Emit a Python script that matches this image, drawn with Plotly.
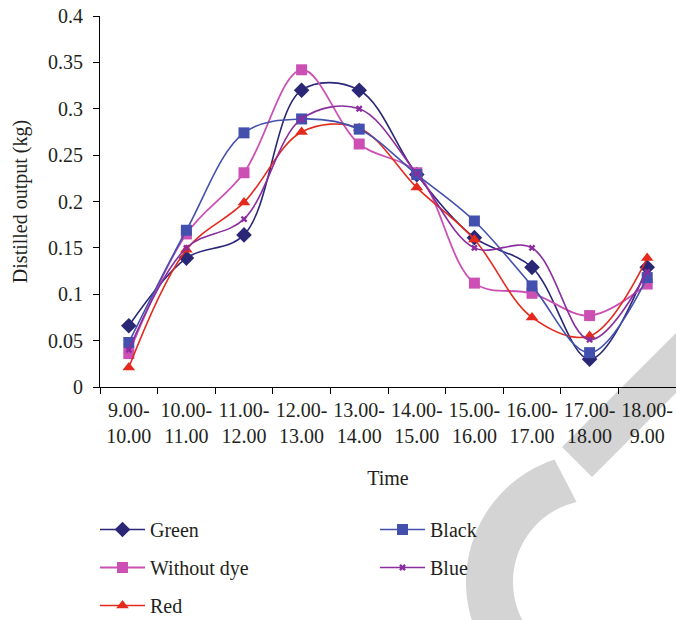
import numpy as np
import plotly.graph_objects as go

categories = ["9.00-<br>10.00", "10.00-<br>11.00", "11.00-<br>12.00", "12.00-<br>13.00",
              "13.00-<br>14.00", "14.00-<br>15.00", "15.00-<br>16.00", "16.00-<br>17.00",
              "17.00-<br>18.00", "18.00-<br>9.00"]

green = [0.066, 0.139, 0.164, 0.320, 0.320, 0.229, 0.161, 0.129, 0.030, 0.129]
black = [0.048, 0.169, 0.274, 0.289, 0.278, 0.229, 0.179, 0.109, 0.037, 0.118]
without_dye = [0.036, 0.165, 0.231, 0.342, 0.262, 0.231, 0.112, 0.101, 0.077, 0.111]
blue = [0.040, 0.150, 0.181, 0.289, 0.300, 0.230, 0.150, 0.150, 0.051, 0.124]
red = [0.021, 0.148, 0.199, 0.275, 0.279, 0.215, 0.159, 0.075, 0.055, 0.139]

y_tickvals = [0, 0.05, 0.1, 0.15, 0.2, 0.25, 0.3, 0.35, 0.4]
y_ticktext = ["0", "0.05", "0.1", "0.15", "0.2", "0.25", "0.3", "0.35", "0.4"]

FONT = "Liberation Serif"
TXT = "#231F20"

W, H = 676, 620
ML, MR, MT, MB = 100, 0, 16, 233
PW, PH = W - ML - MR, H - MT - MB


def to_paper(px, py):
    return (px - ML) / PW, (H - MB - py) / PH


def path_from(points):
    pts = [to_paper(x, y) for x, y in points]
    return "M " + " L ".join(f"{x:.4f},{y:.4f}" for x, y in pts) + " Z"


fig = go.Figure()

# drawing order: Green, Without dye, Red, Black, Blue (Black/Blue on top)
series = [
    ("Green", green, "#2B2777", "diamond", 12, 1.6, "legend", "g1"),
    ("Without dye", without_dye, "#CC50B4", "square", 11, 1.8, "legend", "g3"),
    ("Red", red, "#E42A1C", "triangle-up", 11, 1.6, "legend", "g5"),
    ("Black", black, "#4450AE", "square", 11, 1.6, "legend2", "g2"),
    ("Blue", blue, "#8A2D9E", "x", 6, 1.6, "legend2", "g4"),
]

for name, vals, col, sym, size, lw, leg, grp in series:
    fig.add_trace(go.Scatter(
        x=categories, y=vals, name=name, mode="lines+markers",
        line=dict(color=col, width=lw, shape="spline", smoothing=1.0),
        marker=dict(symbol=sym, size=size, color=col, line=dict(width=0)),
        legend=leg, legendgroup=grp,
    ))

# watermark decoration (background)
stripe = [(562, 447), (592, 477), (720, 349), (720, 289)]
fig.add_shape(type="path", path=path_from(stripe), xref="paper", yref="paper",
              fillcolor="#D4D4D4", line=dict(width=0), layer="below")

cx, cy, ro, ri = 595, 582, 129, 82
ao = np.deg2rad(np.linspace(-108.3, -265, 80))
ai = np.deg2rad(np.linspace(-265, -103, 80))
ring = [(cx + ro * np.cos(t), cy + ro * np.sin(t)) for t in ao] + \
       [(cx + ri * np.cos(t), cy + ri * np.sin(t)) for t in ai]
fig.add_shape(type="path", path=path_from(ring), xref="paper", yref="paper",
              fillcolor="#D4D4D4", line=dict(width=0), layer="below")

legend_common = dict(
    orientation="v", yanchor="top", xanchor="left",
    font=dict(family=FONT, size=20, color=TXT),
    bgcolor="rgba(0,0,0,0)", borderwidth=0, itemwidth=45,
    tracegroupgap=9, traceorder="grouped",
)
lx1, ly = to_paper(95, 510)
lx2, _ = to_paper(375, 510)

fig.update_layout(
    width=W, height=H,
    margin=dict(l=ML, r=MR, t=MT, b=MB, autoexpand=False),
    paper_bgcolor="white", plot_bgcolor="rgba(0,0,0,0)",
    font=dict(family=FONT, size=20, color=TXT),
    showlegend=True,
    legend=dict(x=lx1, y=ly, **legend_common),
    legend2=dict(x=lx2, y=ly, **legend_common),
    xaxis=dict(
        type="category", range=[-0.5, 9.5],
        showline=True, linecolor="#000000", linewidth=1.2,
        ticks="outside", tickson="boundaries", ticklen=6, tickcolor="#000000",
        tickangle=0, ticklabelstandoff=5,
        tickfont=dict(family=FONT, size=20, color=TXT),
        showgrid=False, zeroline=False,
        title=dict(text="Time", font=dict(family=FONT, size=20, color=TXT), standoff=24),
        automargin=False,
    ),
    yaxis=dict(
        range=[0, 0.4], tickvals=y_tickvals, ticktext=y_ticktext,
        showline=True, linecolor="#000000", linewidth=1.2,
        ticks="outside", ticklen=6, tickcolor="#000000",
        tickfont=dict(family=FONT, size=20, color=TXT),
        ticklabelstandoff=6,
        showgrid=False, zeroline=False,
        title=dict(text="Distilled output (kg)", font=dict(family=FONT, size=20, color=TXT), standoff=14),
        automargin=False,
    ),
)

fig.write_html("out.html", config={"displayModeBar": False},
               post_script="document.body.style.margin='0px';")
